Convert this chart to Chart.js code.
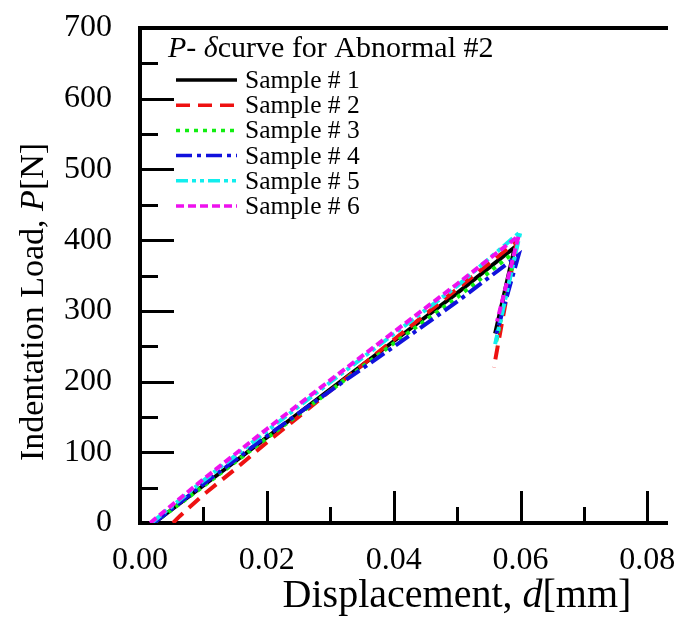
<!DOCTYPE html>
<html>
<head>
<meta charset="utf-8">
<script src="https://cdn.jsdelivr.net/npm/chart.js@4.4.1/dist/chart.umd.min.js"></script>
<style>
html,body{margin:0;padding:0;background:#fff;}
#wrap{width:685px;height:619px;position:relative;}
</style>
</head>
<body>
<div id="wrap"><canvas id="c" width="685" height="619"></canvas></div>
<script>
// ---- data (displacement in mm, load in N) ----
const seriesNames = ['Sample # 1', 'Sample # 2', 'Sample # 3', 'Sample # 4', 'Sample # 5', 'Sample # 6'];

const sample1X = [0.0022, 0.0100, 0.0200, 0.0300, 0.0400, 0.0500, 0.0591, 0.0560];
const sample1P = [0, 53, 121, 189, 257, 325, 390, 268];

const sample2X = [0.0052, 0.0063, 0.0100, 0.0150, 0.0200, 0.0250, 0.0300, 0.0400, 0.0500, 0.0594, 0.0558];
const sample2P = [0, 10, 40, 76, 114, 150, 187, 259, 331, 398, 220];

const sample3X = [0.0022, 0.0100, 0.0200, 0.0300, 0.0400, 0.0500, 0.0592, 0.0560];
const sample3P = [0, 52, 120, 187, 254, 319, 384, 250];

const sample4X = [0.0022, 0.0100, 0.0200, 0.0300, 0.0400, 0.0500, 0.0597, 0.0562];
const sample4P = [0, 55, 123, 187, 249, 313, 379, 268];

const sample5X = [0.0018, 0.0100, 0.0200, 0.0300, 0.0400, 0.0500, 0.0600, 0.0560];
const sample5P = [0, 60, 130, 199, 267, 335, 412, 253];

const sample6X = [0.0016, 0.0100, 0.0200, 0.0300, 0.0400, 0.0500, 0.0597, 0.0563];
const sample6P = [0, 62, 133, 202, 270, 338, 406, 285];

const xMajorTicks = [0.00, 0.02, 0.04, 0.06, 0.08];
const xMinorTicks = [0.01, 0.03, 0.05, 0.07];
const yMajorTicks = [0, 100, 200, 300, 400, 500, 600, 700];
const yMinorTicks = [50, 150, 250, 350, 450, 550, 650];

const xTitleParts = [{t: 'Displacement, ', i: false}, {t: 'd', i: true}, {t: '[mm]', i: false}];
const yTitleParts = [{t: 'Indentation Load, ', i: false}, {t: 'P', i: true}, {t: '[N]', i: false}];
const legendTitleParts = [{t: 'P- \u03B4', i: true}, {t: 'curve for Abnormal #2', i: false}];

// ---- styles ----
const seriesColors = ['#000000', '#ee1111', '#11ee11', '#1111dd', '#11eeee', '#ee11ee'];
const seriesDashes = [[], [14, 8], [4, 5], [16, 5, 4, 5], [12, 4, 4, 4, 4, 4], [8, 4]];
const FONT = "'Liberation Serif', 'Times New Roman', serif";

const xs = [sample1X, sample2X, sample3X, sample4X, sample5X, sample6X];
const ps = [sample1P, sample2P, sample3P, sample4P, sample5P, sample6P];

const datasets = seriesNames.map((name, k) => ({
  label: name,
  data: xs[k].map((x, j) => ({x: x, y: ps[k][j]})),
  borderColor: seriesColors[k],
  backgroundColor: seriesColors[k],
  borderDash: seriesDashes[k],
  borderWidth: 4,
  pointRadius: 0,
  pointHoverRadius: 0,
  tension: 0,
  fill: false,
  order: seriesNames.length - k
}));

function drawRich(ctx, parts, size, x, y, align) {
  const widths = parts.map(p => {
    ctx.font = (p.i ? 'italic ' : '') + size + 'px ' + FONT;
    return ctx.measureText(p.t).width;
  });
  const total = widths.reduce((a, b) => a + b, 0);
  let cx = align === 'center' ? x - total / 2 : x;
  ctx.textAlign = 'left';
  parts.forEach((p, k) => {
    ctx.font = (p.i ? 'italic ' : '') + size + 'px ' + FONT;
    ctx.fillText(p.t, cx, y);
    cx += widths[k];
  });
}

const decorPlugin = {
  id: 'decor',
  afterDraw(chart) {
    const {ctx, chartArea: a} = chart;
    const sx = chart.scales.x, sy = chart.scales.y;
    ctx.save();
    ctx.strokeStyle = '#000';
    ctx.fillStyle = '#000';
    // top frame line
    ctx.lineWidth = 4;
    ctx.beginPath();
    ctx.moveTo(a.left - 2, a.top);
    ctx.lineTo(a.right + 1, a.top);
    ctx.stroke();
    // inward tick marks
    ctx.lineWidth = 3;
    const drawY = (vals, len) => vals.forEach(v => {
      if (v <= sy.min || v >= sy.max) return;
      const py = Math.round(sy.getPixelForValue(v)) + 0.5;
      ctx.beginPath(); ctx.moveTo(a.left, py); ctx.lineTo(a.left + len, py); ctx.stroke();
    });
    const drawX = (vals, len) => vals.forEach(v => {
      if (v <= sx.min || v >= sx.max) return;
      const px = Math.round(sx.getPixelForValue(v)) + 0.5;
      ctx.beginPath(); ctx.moveTo(px, a.bottom); ctx.lineTo(px, a.bottom - len); ctx.stroke();
    });
    drawY(yMajorTicks, 34); drawY(yMinorTicks, 18);
    drawX(xMajorTicks, 32); drawX(xMinorTicks, 16);

    // axis titles
    ctx.textBaseline = 'alphabetic';
    drawRich(ctx, xTitleParts, 40, a.left + 317, 607, 'center');
    ctx.save();
    ctx.translate(43, 302);
    ctx.rotate(-Math.PI / 2);
    drawRich(ctx, yTitleParts, 34, 0, 0, 'center');
    ctx.restore();

    // legend
    const lx = a.left + 28;
    drawRich(ctx, legendTitleParts, 30, lx, a.top + 29, 'left');
    chart.data.datasets.forEach((ds, k) => {
      const rowY = a.top + 52 + k * 25.2;
      ctx.save();
      ctx.strokeStyle = ds.borderColor;
      ctx.lineWidth = 3.5;
      ctx.setLineDash(ds.borderDash);
      ctx.beginPath();
      ctx.moveTo(a.left + 36, rowY);
      ctx.lineTo(a.left + 97, rowY);
      ctx.stroke();
      ctx.restore();
      ctx.font = '25.5px ' + FONT;
      ctx.textAlign = 'left';
      ctx.fillText(ds.label, a.left + 105, rowY + 8);
    });
    ctx.restore();
  }
};

new Chart(document.getElementById('c'), {
  type: 'line',
  data: {datasets: datasets},
  options: {
    responsive: false,
    animation: false,
    devicePixelRatio: 1,
    layout: {padding: {top: 28, right: 18, left: 0, bottom: 0}},
    plugins: {legend: {display: false}, tooltip: {enabled: false}},
    scales: {
      x: {
        type: 'linear',
        min: 0,
        max: 0.0831,
        grid: {display: false, drawTicks: false},
        border: {display: true, width: 4, color: '#000'},
        ticks: {
          stepSize: 0.02,
          includeBounds: false,
          autoSkip: false,
          maxRotation: 0,
          padding: 18,
          color: '#000',
          font: {family: FONT, size: 32},
          callback: v => Number(v).toFixed(2)
        },
        afterFit: s => { s.height = 96; s.paddingLeft = 0; s.paddingRight = 0; }
      },
      y: {
        type: 'linear',
        min: 0,
        max: 700,
        grid: {display: false, drawTicks: false},
        border: {display: true, width: 4, color: '#000'},
        ticks: {
          stepSize: 100,
          includeBounds: false,
          autoSkip: false,
          padding: 28,
          color: '#000',
          font: {family: FONT, size: 32},
          callback: v => String(v)
        },
        afterFit: s => { s.width = 140; s.paddingTop = 0; s.paddingBottom = 0; }
      }
    }
  },
  plugins: [decorPlugin]
});
</script>
</body>
</html>
